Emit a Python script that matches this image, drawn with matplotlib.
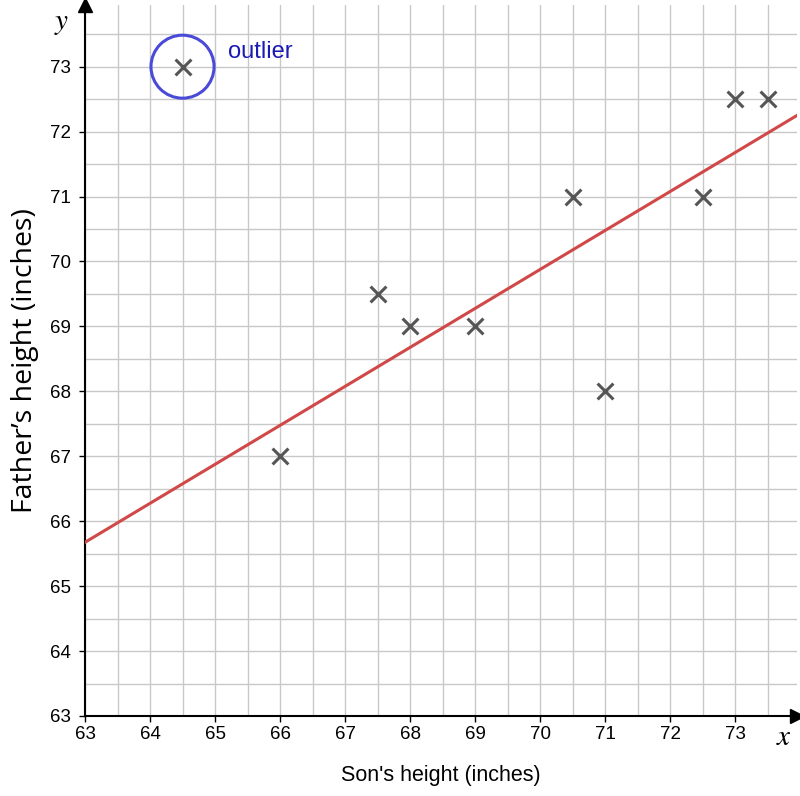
import numpy as np
import matplotlib
matplotlib.use("Agg")
import matplotlib.pyplot as plt
from matplotlib.patches import Circle

plt.rcParams['font.family'] = ['Liberation Sans', 'DejaVu Sans']
plt.rcParams['mathtext.fontset'] = 'stix'

son = [64.5, 66, 67.5, 68, 69, 70.5, 71, 72.5, 73, 73.5]
father = [73, 67, 69.5, 69, 69, 71, 68, 71, 72.5, 72.5]
outlier_idx = 0
x_ticks = [63, 64, 65, 66, 67, 68, 69, 70, 71, 72, 73]
y_ticks = [63, 64, 65, 66, 67, 68, 69, 70, 71, 72, 73]

fig = plt.figure(figsize=(8, 7.96), dpi=100)
ax = fig.add_axes([85/800, 80/796, 712/800, 711/796])
xmin, xmax, ymin, ymax = 63, 73.95, 63, 73.95
ax.set_xlim(xmin, xmax)
ax.set_ylim(ymin, ymax)

ax.set_xticks(x_ticks)
ax.set_yticks(y_ticks)
ax.set_xticks(np.arange(63.5, 74, 1.0), minor=True)
ax.set_yticks(np.arange(63.5, 74, 1.0), minor=True)
ax.grid(True, which='both', color='#c8c8c8', linewidth=1.0)
ax.set_axisbelow(True)
ax.tick_params(which='major', direction='out', length=4, width=1, labelsize=13.5, color='black')
ax.tick_params(axis='x', which='major', pad=3)
ax.tick_params(axis='y', which='major', pad=6)
ax.tick_params(which='minor', length=0)
for s in ['top', 'right']:
    ax.spines[s].set_visible(False)
for s in ['left', 'bottom']:
    ax.spines[s].set_linewidth(1.5)

# arrows
ax.plot(1, 0, '>', color='black', markersize=10, transform=ax.transAxes, clip_on=False)
ax.plot(0, 1, '^', color='black', markersize=10, transform=ax.transAxes, clip_on=False)

# regression without outlier
xs = np.array([v for i, v in enumerate(son) if i != outlier_idx])
ys = np.array([v for i, v in enumerate(father) if i != outlier_idx])
b, a = np.polyfit(xs, ys, 1)
lx = np.array([xmin, xmax])
ax.plot(lx, a + b * lx, color='#d04848', linewidth=2.2, zorder=3)

ax.scatter(son, father, marker='x', s=130, color='#555555', linewidths=2.2, zorder=4)

ax.add_patch(Circle((son[outlier_idx], father[outlier_idx]), 0.485, fill=False,
                    edgecolor='#4a4ad8', linewidth=2.2, zorder=4))
ax.text(65.2, 73.22, 'outlier', color='#1a1ab4', fontsize=17, ha='left', va='center')

ax.text(-0.033, 0.975, r'$y$', transform=ax.transAxes, fontsize=21, ha='center', va='center')
ax.text(0.981, -0.03, r'$x$', transform=ax.transAxes, fontsize=21, ha='center', va='center')

ax.set_xlabel("Son's height (inches)", fontsize=15.5, labelpad=16)
ax.set_ylabel("Father\u2019s height (inches)", fontsize=20.5, labelpad=8,
              family=['Open Sans', 'DejaVu Sans'])

fig.savefig('out.png', dpi=100)
